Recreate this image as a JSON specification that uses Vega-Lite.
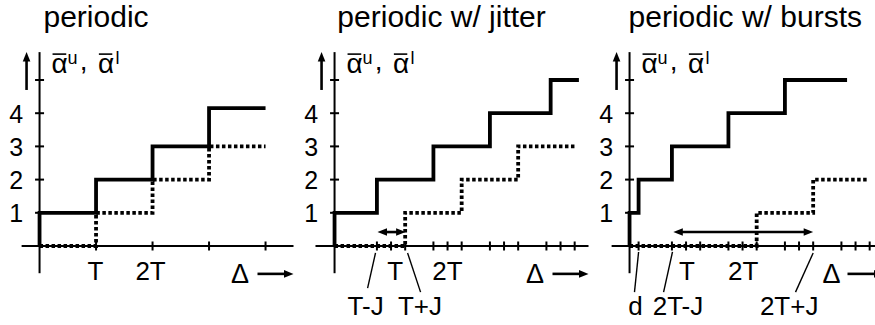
{
"$schema": "https://vega.github.io/schema/vega-lite/v6.json",
"background": "white",
"padding": 0,
"autosize": {"type": "pad"},
"spacing": 0,
"data": {"values": [
{"p":"1","k":"rule","r":"axis","x":-1.27,"y":0,"x2":17.98,"y2":0},
{"p":"1","k":"rule","r":"axis","x":0,"y":-0.82,"x2":0,"y2":5.84},
{"p":"1","k":"rule","r":"shaft","x":-0.92,"y":4.7,"x2":-0.92,"y2":5.6},
{"p":"1","k":"rule","r":"shaft","x":15.43,"y":-0.84,"x2":17.4,"y2":-0.84},
{"p":"1","k":"rule","r":"bar","x":0.92,"y":5.78,"x2":1.89,"y2":5.78},
{"p":"1","k":"rule","r":"bar","x":4.2,"y":5.78,"x2":5.15,"y2":5.78},
{"p":"1","k":"head","d":"up","x":-0.92,"y":5.84},
{"p":"1","k":"head","d":"right","x":17.98,"y":-0.84},
{"p":"1","k":"title","x":0.28,"y":6.6,"t":"periodic"},
{"p":"1","k":"alpha","x":0.85,"y":5.21,"t":"α"},
{"p":"1","k":"alpha","x":2.85,"y":5.3,"t":","},
{"p":"1","k":"alpha","x":4.13,"y":5.21,"t":"α"},
{"p":"1","k":"sup","x":1.98,"y":5.48,"t":"u"},
{"p":"1","k":"sup","x":5.38,"y":5.48,"t":"l"},
{"p":"1","k":"xl","x":3.96,"y":-1.02,"t":"T"},
{"p":"1","k":"xl","x":7.86,"y":-1.02,"t":"2T"},
{"p":"1","k":"delta","x":14.2,"y":-1.11,"t":"Δ"},
{"p":"1","k":"xt","x":4,"y":0},{"p":"1","k":"xt","x":8,"y":0},{"p":"1","k":"xt","x":12,"y":0},{"p":"1","k":"xt","x":16,"y":0},
{"p":"1","k":"yt","x":0,"y":1,"t":"1"},{"p":"1","k":"yt","x":0,"y":2,"t":"2"},{"p":"1","k":"yt","x":0,"y":3,"t":"3"},{"p":"1","k":"yt","x":0,"y":4,"t":"4"},{"p":"1","k":"yt","x":0,"y":5,"t":""},
{"p":"1","k":"c","s":"l","o":0,"x":0,"y":0},{"p":"1","k":"c","s":"l","o":1,"x":4,"y":0},{"p":"1","k":"c","s":"l","o":2,"x":4,"y":1},{"p":"1","k":"c","s":"l","o":3,"x":8,"y":1},{"p":"1","k":"c","s":"l","o":4,"x":8,"y":2},{"p":"1","k":"c","s":"l","o":5,"x":12,"y":2},{"p":"1","k":"c","s":"l","o":6,"x":12,"y":3},{"p":"1","k":"c","s":"l","o":7,"x":16,"y":3},
{"p":"1","k":"c","s":"u","o":0,"x":0,"y":0},{"p":"1","k":"c","s":"u","o":1,"x":0,"y":1},{"p":"1","k":"c","s":"u","o":2,"x":4,"y":1},{"p":"1","k":"c","s":"u","o":3,"x":4,"y":2},{"p":"1","k":"c","s":"u","o":4,"x":8,"y":2},{"p":"1","k":"c","s":"u","o":5,"x":8,"y":3},{"p":"1","k":"c","s":"u","o":6,"x":12,"y":3},{"p":"1","k":"c","s":"u","o":7,"x":12,"y":4.15},{"p":"1","k":"c","s":"u","o":8,"x":16,"y":4.15},

{"p":"2","k":"rule","r":"axis","x":-1.35,"y":0,"x2":17.98,"y2":0},
{"p":"2","k":"rule","r":"axis","x":0,"y":-0.82,"x2":0,"y2":5.84},
{"p":"2","k":"rule","r":"shaft","x":-0.92,"y":4.7,"x2":-0.92,"y2":5.6},
{"p":"2","k":"rule","r":"shaft","x":15.43,"y":-0.84,"x2":17.4,"y2":-0.84},
{"p":"2","k":"rule","r":"bar","x":0.92,"y":5.78,"x2":1.89,"y2":5.78},
{"p":"2","k":"rule","r":"bar","x":4.2,"y":5.78,"x2":5.15,"y2":5.78},
{"p":"2","k":"rule","r":"shaft","x":3.4,"y":0.42,"x2":4.67,"y2":0.42},
{"p":"2","k":"rule","r":"slash","x":2.34,"y":-1.27,"x2":2.9,"y2":-0.21},
{"p":"2","k":"rule","r":"slash","x":5.17,"y":-0.21,"x2":6.09,"y2":-1.39},
{"p":"2","k":"head","d":"up","x":-0.92,"y":5.84},
{"p":"2","k":"head","d":"right","x":17.98,"y":-0.84},
{"p":"2","k":"head","d":"left","x":3.04,"y":0.42},
{"p":"2","k":"head","d":"right","x":5.03,"y":0.42},
{"p":"2","k":"title","x":0.2,"y":6.6,"t":"periodic w/ jitter"},
{"p":"2","k":"alpha","x":0.85,"y":5.21,"t":"α"},
{"p":"2","k":"alpha","x":2.85,"y":5.3,"t":","},
{"p":"2","k":"alpha","x":4.13,"y":5.21,"t":"α"},
{"p":"2","k":"sup","x":1.98,"y":5.48,"t":"u"},
{"p":"2","k":"sup","x":5.38,"y":5.48,"t":"l"},
{"p":"2","k":"xl","x":4.3,"y":-1.02,"t":"T"},
{"p":"2","k":"xl","x":8.0,"y":-1.02,"t":"2T"},
{"p":"2","k":"xl","x":2.2,"y":-2.08,"t":"T-J"},
{"p":"2","k":"xl","x":6.05,"y":-2.08,"t":"T+J"},
{"p":"2","k":"delta","x":14.2,"y":-1.11,"t":"Δ"},
{"p":"2","k":"xt","x":3,"y":0},{"p":"2","k":"xt","x":4,"y":0},{"p":"2","k":"xt","x":5,"y":0},{"p":"2","k":"xt","x":7,"y":0},{"p":"2","k":"xt","x":8,"y":0},{"p":"2","k":"xt","x":9,"y":0},{"p":"2","k":"xt","x":11,"y":0},{"p":"2","k":"xt","x":12,"y":0},{"p":"2","k":"xt","x":13,"y":0},{"p":"2","k":"xt","x":15,"y":0},{"p":"2","k":"xt","x":16,"y":0},{"p":"2","k":"xt","x":17,"y":0},
{"p":"2","k":"yt","x":0,"y":1,"t":"1"},{"p":"2","k":"yt","x":0,"y":2,"t":"2"},{"p":"2","k":"yt","x":0,"y":3,"t":"3"},{"p":"2","k":"yt","x":0,"y":4,"t":"4"},{"p":"2","k":"yt","x":0,"y":5,"t":""},
{"p":"2","k":"c","s":"l","o":0,"x":0,"y":0},{"p":"2","k":"c","s":"l","o":1,"x":5,"y":0},{"p":"2","k":"c","s":"l","o":2,"x":5,"y":1},{"p":"2","k":"c","s":"l","o":3,"x":9,"y":1},{"p":"2","k":"c","s":"l","o":4,"x":9,"y":2},{"p":"2","k":"c","s":"l","o":5,"x":13,"y":2},{"p":"2","k":"c","s":"l","o":6,"x":13,"y":3},{"p":"2","k":"c","s":"l","o":7,"x":17,"y":3},
{"p":"2","k":"c","s":"u","o":0,"x":0,"y":0},{"p":"2","k":"c","s":"u","o":1,"x":0,"y":1},{"p":"2","k":"c","s":"u","o":2,"x":3,"y":1},{"p":"2","k":"c","s":"u","o":3,"x":3,"y":2},{"p":"2","k":"c","s":"u","o":4,"x":7,"y":2},{"p":"2","k":"c","s":"u","o":5,"x":7,"y":3},{"p":"2","k":"c","s":"u","o":6,"x":11,"y":3},{"p":"2","k":"c","s":"u","o":7,"x":11,"y":4},{"p":"2","k":"c","s":"u","o":8,"x":15.3,"y":4},{"p":"2","k":"c","s":"u","o":9,"x":15.3,"y":5},{"p":"2","k":"c","s":"u","o":10,"x":17.3,"y":5},

{"p":"3","k":"rule","r":"axis","x":-1.27,"y":0,"x2":17.98,"y2":0},
{"p":"3","k":"rule","r":"axis","x":0,"y":-0.82,"x2":0,"y2":5.84},
{"p":"3","k":"rule","r":"shaft","x":-0.92,"y":4.7,"x2":-0.92,"y2":5.6},
{"p":"3","k":"rule","r":"shaft","x":15.43,"y":-0.84,"x2":17.4,"y2":-0.84},
{"p":"3","k":"rule","r":"bar","x":0.92,"y":5.78,"x2":1.89,"y2":5.78},
{"p":"3","k":"rule","r":"bar","x":4.2,"y":5.78,"x2":5.15,"y2":5.78},
{"p":"3","k":"rule","r":"shaft","x":3.5,"y":0.42,"x2":12.6,"y2":0.42},
{"p":"3","k":"rule","r":"slash","x":0.35,"y":-1.39,"x2":0.64,"y2":-0.18},
{"p":"3","k":"rule","r":"slash","x":2.41,"y":-1.39,"x2":3.04,"y2":-0.18},
{"p":"3","k":"rule","r":"slash","x":11.75,"y":-1.39,"x2":13.0,"y2":-0.21},
{"p":"3","k":"head","d":"up","x":-0.92,"y":5.84},
{"p":"3","k":"head","d":"right","x":17.98,"y":-0.84},
{"p":"3","k":"head","d":"left","x":3.1,"y":0.42},
{"p":"3","k":"head","d":"right","x":13.0,"y":0.42},
{"p":"3","k":"title","x":-0.07,"y":6.6,"t":"periodic w/ bursts"},
{"p":"3","k":"alpha","x":0.85,"y":5.21,"t":"α"},
{"p":"3","k":"alpha","x":2.85,"y":5.3,"t":","},
{"p":"3","k":"alpha","x":4.13,"y":5.21,"t":"α"},
{"p":"3","k":"sup","x":1.98,"y":5.48,"t":"u"},
{"p":"3","k":"sup","x":5.38,"y":5.48,"t":"l"},
{"p":"3","k":"xl","x":4.07,"y":-1.02,"t":"T"},
{"p":"3","k":"xl","x":8.04,"y":-1.02,"t":"2T"},
{"p":"3","k":"xl","x":0.42,"y":-2.08,"t":"d"},
{"p":"3","k":"xl","x":3.43,"y":-2.08,"t":"2T-J"},
{"p":"3","k":"xl","x":11.3,"y":-2.08,"t":"2T+J"},
{"p":"3","k":"delta","x":14.3,"y":-1.11,"t":"Δ"},
{"p":"3","k":"xt","x":0.64,"y":0},{"p":"3","k":"xt","x":3,"y":0},{"p":"3","k":"xt","x":4,"y":0},{"p":"3","k":"xt","x":5,"y":0},{"p":"3","k":"xt","x":7,"y":0},{"p":"3","k":"xt","x":8,"y":0},{"p":"3","k":"xt","x":9,"y":0},{"p":"3","k":"xt","x":11,"y":0},{"p":"3","k":"xt","x":12,"y":0},{"p":"3","k":"xt","x":13,"y":0},{"p":"3","k":"xt","x":15,"y":0},{"p":"3","k":"xt","x":16,"y":0},{"p":"3","k":"xt","x":17,"y":0},
{"p":"3","k":"yt","x":0,"y":1,"t":"1"},{"p":"3","k":"yt","x":0,"y":2,"t":"2"},{"p":"3","k":"yt","x":0,"y":3,"t":"3"},{"p":"3","k":"yt","x":0,"y":4,"t":"4"},{"p":"3","k":"yt","x":0,"y":5,"t":""},
{"p":"3","k":"c","s":"l","o":0,"x":0,"y":0},{"p":"3","k":"c","s":"l","o":1,"x":9,"y":0},{"p":"3","k":"c","s":"l","o":2,"x":9,"y":1},{"p":"3","k":"c","s":"l","o":3,"x":13,"y":1},{"p":"3","k":"c","s":"l","o":4,"x":13,"y":2},{"p":"3","k":"c","s":"l","o":5,"x":16.9,"y":2},
{"p":"3","k":"c","s":"u","o":0,"x":0,"y":0},{"p":"3","k":"c","s":"u","o":1,"x":0,"y":1},{"p":"3","k":"c","s":"u","o":2,"x":0.64,"y":1},{"p":"3","k":"c","s":"u","o":3,"x":0.64,"y":2},{"p":"3","k":"c","s":"u","o":4,"x":3,"y":2},{"p":"3","k":"c","s":"u","o":5,"x":3,"y":3},{"p":"3","k":"c","s":"u","o":6,"x":7,"y":3},{"p":"3","k":"c","s":"u","o":7,"x":7,"y":4},{"p":"3","k":"c","s":"u","o":8,"x":11,"y":4},{"p":"3","k":"c","s":"u","o":9,"x":11,"y":5},{"p":"3","k":"c","s":"u","o":10,"x":15.4,"y":5}
]},
"facet": {"column": {"field": "p", "type": "nominal", "header": null}},
"spec": {
  "width": 292,
  "height": 325,
  "encoding": {
    "x": {"field": "x", "type": "quantitative", "scale": {"domain": [-2.8, 17.873], "nice": false, "zero": false}, "axis": null},
    "y": {"field": "y", "type": "quantitative", "scale": {"domain": [-2.38, 7.41], "nice": false, "zero": false}, "axis": null}
  },
  "layer": [
    {"transform": [{"filter": "datum.k === 'rule' && datum.r === 'axis'"}],
     "mark": {"type": "rule", "color": "black", "strokeWidth": 2},
     "encoding": {"x2": {"field": "x2"}, "y2": {"field": "y2"}}},
    {"transform": [{"filter": "datum.k === 'rule' && datum.r === 'shaft'"}],
     "mark": {"type": "rule", "color": "black", "strokeWidth": 2.6},
     "encoding": {"x2": {"field": "x2"}, "y2": {"field": "y2"}}},
    {"transform": [{"filter": "datum.k === 'rule' && datum.r === 'slash'"}],
     "mark": {"type": "rule", "color": "black", "strokeWidth": 1.4},
     "encoding": {"x2": {"field": "x2"}, "y2": {"field": "y2"}}},
    {"transform": [{"filter": "datum.k === 'rule' && datum.r === 'bar'"}],
     "mark": {"type": "rule", "color": "black", "strokeWidth": 1.6},
     "encoding": {"x2": {"field": "x2"}, "y2": {"field": "y2"}}},
    {"transform": [{"filter": "datum.k === 'xt'"}],
     "mark": {"type": "tick", "orient": "vertical", "color": "black", "size": 9, "thickness": 2, "opacity": 1}},
    {"transform": [{"filter": "datum.k === 'yt'"}],
     "mark": {"type": "tick", "orient": "horizontal", "color": "black", "size": 9, "thickness": 2, "opacity": 1}},
    {"transform": [{"filter": "datum.k === 'c'"}],
     "mark": {"type": "line", "color": "black", "strokeWidth": 3.8, "strokeCap": "butt", "strokeJoin": "miter"},
     "encoding": {
       "order": {"field": "o", "type": "quantitative"},
       "strokeDash": {"field": "s", "type": "nominal", "scale": {"domain": ["u", "l"], "range": [[1, 0], [3.5, 2.5]]}, "legend": null}
     }},
    {"transform": [{"filter": "datum.k === 'head'"}],
     "mark": {"type": "point", "filled": true, "color": "black", "opacity": 1, "size": 360, "strokeWidth": 0},
     "encoding": {
       "shape": {"field": "d", "type": "nominal", "scale": {"domain": ["up", "right", "left"], "range": ["M0,0L-0.4,1L0.4,1Z", "M0,0L-1,-0.4L-1,0.4Z", "M0,0L1,-0.4L1,0.4Z"]}, "legend": null}
     }},
    {"transform": [{"filter": "datum.k === 'title'"}],
     "mark": {"type": "text", "color": "black", "font": "Liberation Sans", "fontSize": 30, "align": "left", "baseline": "alphabetic"},
     "encoding": {"text": {"field": "t"}}},
    {"transform": [{"filter": "datum.k === 'alpha'"}],
     "mark": {"type": "text", "color": "black", "font": "Liberation Sans", "fontSize": 28, "align": "left", "baseline": "alphabetic"},
     "encoding": {"text": {"field": "t"}}},
    {"transform": [{"filter": "datum.k === 'sup'"}],
     "mark": {"type": "text", "color": "black", "font": "Liberation Sans", "fontSize": 18, "align": "left", "baseline": "alphabetic"},
     "encoding": {"text": {"field": "t"}}},
    {"transform": [{"filter": "datum.k === 'xl'"}],
     "mark": {"type": "text", "color": "black", "font": "Liberation Sans", "fontSize": 26, "align": "center", "baseline": "alphabetic"},
     "encoding": {"text": {"field": "t"}}},
    {"transform": [{"filter": "datum.k === 'delta'"}],
     "mark": {"type": "text", "color": "black", "font": "Liberation Sans", "fontSize": 27, "align": "center", "baseline": "alphabetic"},
     "encoding": {"text": {"field": "t"}}},
    {"transform": [{"filter": "datum.k === 'yt'"}],
     "mark": {"type": "text", "color": "black", "font": "Liberation Sans", "fontSize": 25, "align": "center", "baseline": "middle", "dy": 1.5},
     "encoding": {
       "x": {"datum": -1.65, "type": "quantitative", "axis": null},
       "text": {"field": "t"}
     }}
  ]
},
"config": {"view": {"stroke": null}}
}
